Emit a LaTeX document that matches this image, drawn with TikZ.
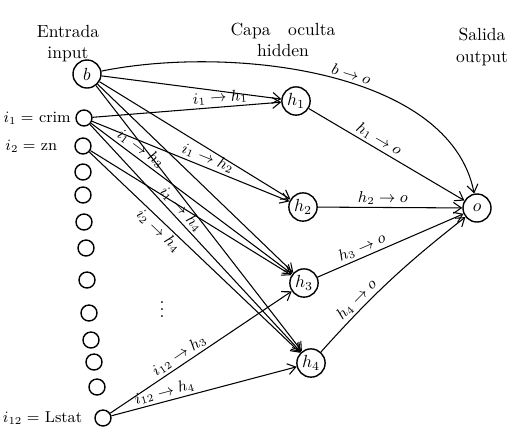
\documentclass[tikz,border=0pt]{standalone}
\usepackage{xcolor}
\usepackage{tikz}
\usetikzlibrary{arrows.meta,positioning}

\begin{document}
\begin{tikzpicture}[
	x=0.02cm, y=-0.02cm,
	unit/.style={draw, circle, thick, inner sep=1pt, minimum size=4.8mm},
	inunit/.style={draw, circle, thick, inner sep=0pt, minimum size=3.2mm},
	bigunit/.style={draw, circle, thick, inner sep=1pt, minimum size=5.6mm},
	arrow/.style={-{Straight Barb[length=1.6mm,width=2.2mm]}, semithick},
	lab/.style={font=\small, sloped, inner sep=1.5pt},
	inlabel/.style={font=\small, inner sep=1pt},
	head/.style={align=center}
]
\useasboundingbox (0,0) rectangle (520,441);

% input layer
\node[bigunit] (b) at (87,74) {$b$};
\node[inunit] (i1) at (84,118) {};
\node[inunit] (i2) at (83,146) {};
\node[inunit] (i3) at (83,172) {};
\node[inunit] (i4) at (83,195) {};
\node[inunit] (i5) at (84,222) {};
\node[inunit] (i6) at (86,248) {};
\node[inunit] (i7) at (87,280) {};
\node[inunit] (i8) at (89,313) {};
\node[inunit] (i9) at (91,340) {};
\node[inunit] (i10) at (94,362) {};
\node[inunit] (i11) at (97,387) {};
\node[inunit] (i12) at (103,418) {};

% hidden and output layer
\node[unit] (h1) at (296,101) {$h_1$};
\node[unit] (h2) at (303,207) {$h_2$};
\node[unit] (h3) at (304,283) {$h_3$};
\node[unit] (h4) at (311,363) {$h_4$};
\node[bigunit] (o) at (477,208) {$o$};

% headings and names
\node[head] (tin) at (68,44) {Entrada\\input};
\node[head] (thid) at (283,40) {Capa\quad oculta\\hidden};
\node[head] (tout) at (482,47) {Salida\\output};
\node[inlabel, left=0.5mm of i1] (n1) {$i_1 =$ crim};
\node[inlabel, left=3mm of i2] (n2) {$i_2 =$ zn};
\node[inlabel, left=2mm of i12] (n12) {$i_{12} =$ Lstat};
\node (dots) at (162,304) {$\vdots$};

% bias
\draw[arrow] (b) .. controls (230,45) and (450,70) .. node[lab, above, pos=0.55] {$b\to o$} (o);
\draw[arrow] (b) -- (h1);
\draw[arrow] (b) -- (h2);
\draw[arrow] (b) -- (h3);
\draw[arrow] (b) -- (h4);

% inputs to hidden
\draw[arrow] (i1) -- node[lab, above, pos=0.68] {$i_1\to h_1$} (h1);
\draw[arrow] (i1) -- node[lab, above, pos=0.57] {$i_1\to h_2$} (h2);
\draw[arrow] (i1) -- node[lab, above, pos=0.22] {$i_1\to h_3$} (h3);
\draw[arrow] (i1) -- node[lab, above, pos=0.4] {$i_1\to h_4$} (h4);
\draw[arrow] (i2) -- (h3);
\draw[arrow] (i2) -- node[lab, below, pos=0.36] {$i_2\to h_4$} (h4);
\draw[arrow] (i12) -- node[lab, above, pos=0.41] {$i_{12}\to h_3$} (h3);
\draw[arrow] (i12) -- node[lab, above, pos=0.3] {$i_{12}\to h_4$} (h4);

% hidden to output
\draw[arrow] (h1) -- node[lab, above, pos=0.42] {$h_1\to o$} (o);
\draw[arrow] (h2) -- node[lab, above, pos=0.45] {$h_2\to o$} (o);
\draw[arrow] (h3) -- node[lab, above, pos=0.33] {$h_3\to o$} (o);
\draw[arrow] (h4) to[bend left=5] node[lab, above, pos=0.3] {$h_4\to o$} (o);
\end{tikzpicture}
\end{document}
